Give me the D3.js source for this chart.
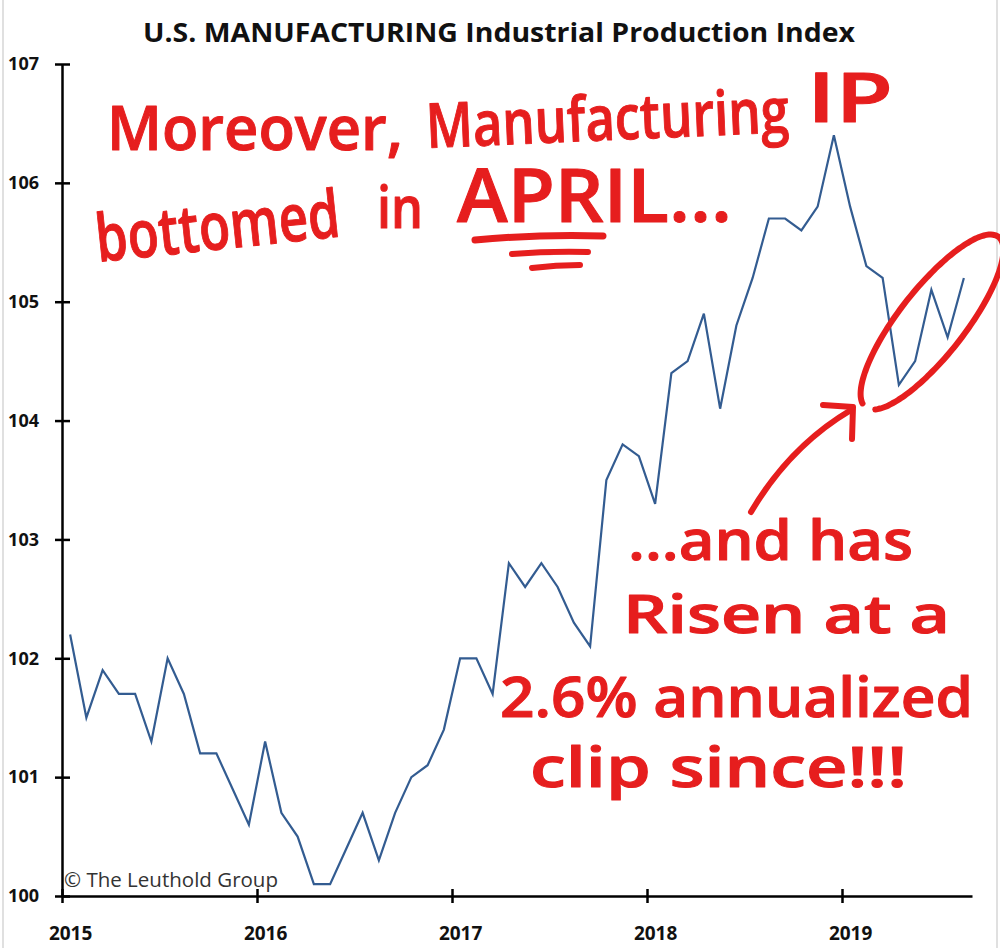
<!DOCTYPE html>
<html>
<head>
<meta charset="utf-8">
<script src="https://cdn.jsdelivr.net/npm/d3@7"></script>
<style>
  html, body { margin: 0; padding: 0; background: #fff; }
  svg { display: block; }
</style>
</head>
<body>
<svg id="chart" width="1000" height="948"></svg>
<script>
// ---- data ----
const titleText = "U.S. MANUFACTURING Industrial Production Index";
const yearLabels = ["2015", "2016", "2017", "2018", "2019"];
const yearTickMonths = [0, 12, 24, 36, 48];
const yTicks = [100, 101, 102, 103, 104, 105, 106, 107];
// Monthly index values, Jan 2015 .. Aug 2019
const values = [
  102.2, 101.5, 101.9, 101.7, 101.7, 101.3, 102.0, 101.7, 101.2, 101.2, 100.9, 100.6,
  101.3, 100.7, 100.5, 100.1, 100.1, 100.4, 100.7, 100.3, 100.7, 101.0, 101.1, 101.4,
  102.0, 102.0, 101.7, 102.8, 102.6, 102.8, 102.6, 102.3, 102.1, 103.5, 103.8, 103.7,
  103.3, 104.4, 104.5, 104.9, 104.1, 104.8, 105.2, 105.7, 105.7, 105.6, 105.8, 106.4,
  105.8, 105.3, 105.2, 104.3, 104.5, 105.1, 104.7, 105.2
];
const sourceText = "\u00A9 The Leuthold Group";
const noteWords1 = ["Moreover,", "Manufacturing", "IP", "bottomed", "in", "APRIL..."];
const noteLines2 = ["...and has", "Risen at a", "2.6% annualized", "clip since!!!"];

// ---- layout ----
const svg = d3.select("#chart");
const x = d3.scaleLinear().domain([0, 56]).range([62, 972]);
const y = d3.scaleLinear().domain([100, 107]).range([896, 64]);
const FONT = "'Open Sans', 'Liberation Sans', sans-serif";
const RED = "#e61e1e";

// frame edges
svg.append("line").attr("x1", 3).attr("x2", 3).attr("y1", 0).attr("y2", 948)
  .attr("stroke", "#d6d6d6").attr("stroke-width", 1.5);
svg.append("line").attr("x1", 997).attr("x2", 997).attr("y1", 0).attr("y2", 948)
  .attr("stroke", "#d6d6d6").attr("stroke-width", 1.5);

// title
svg.append("text")
  .attr("x", 143).attr("y", 42)
  .attr("textLength", 712).attr("lengthAdjust", "spacingAndGlyphs")
  .attr("font-family", FONT).attr("font-weight", 700).attr("font-size", 27)
  .attr("fill", "#111")
  .text(titleText);

// y axis
const yAxis = svg.append("g")
  .attr("transform", `translate(${x(0)},0)`)
  .call(d3.axisLeft(y).tickValues(yTicks).tickFormat(d3.format("d"))
    .tickSizeInner(7).tickSizeOuter(0).tickPadding(16));
yAxis.select(".domain").attr("stroke", "#000").attr("stroke-width", 2.5);
yAxis.selectAll(".tick line").attr("x1", 8).attr("stroke", "#000").attr("stroke-width", 2.5);
yAxis.selectAll(".tick text")
  .attr("font-family", FONT).attr("font-weight", 700).attr("font-size", 18)
  .attr("fill", "#111");

// x axis
const xAxis = svg.append("g")
  .attr("transform", `translate(0,${y(100)})`)
  .call(d3.axisBottom(x).tickValues(yearTickMonths)
    .tickFormat((d, i) => yearLabels[i])
    .tickSizeInner(7).tickSizeOuter(0).tickPadding(23));
xAxis.select(".domain").attr("stroke", "#000").attr("stroke-width", 2.5);
xAxis.selectAll(".tick line").attr("y1", -7).attr("stroke", "#000").attr("stroke-width", 2.5);
xAxis.selectAll(".tick text")
  .attr("x", x(0.5) - x(0))
  .attr("dy", "0.72em")
  .attr("font-family", FONT).attr("font-weight", 700).attr("font-size", 19)
  .attr("fill", "#111");

// source
svg.append("text")
  .attr("x", 64).attr("y", 887)
  .attr("textLength", 214).attr("lengthAdjust", "spacingAndGlyphs")
  .attr("font-family", FONT).attr("font-size", 20)
  .attr("fill", "#333")
  .text(sourceText);

// series line
const line = d3.line()
  .x((d, i) => x(i + 0.5))
  .y(d => y(d));
svg.append("path")
  .datum(values)
  .attr("d", line)
  .attr("fill", "none")
  .attr("stroke", "#335c91")
  .attr("stroke-width", 2.2)
  .attr("stroke-linejoin", "miter");

// ---- handwritten-style annotations ----
const ann = svg.append("g")
  .attr("fill", RED).attr("stroke", RED)
  .attr("stroke-width", 1).attr("stroke-linejoin", "round")
  .attr("font-family", FONT).attr("font-weight", 600);

const note1Pos = [
  { x: 107, y: 150, w: 296, fs: 62, r: 0 },
  { x: 427, y: 148, w: 363, fs: 62, r: -2.5 },
  { x: 807, y: 122, w: 86, fs: 68, r: 0 },
  { x: 98, y: 262, w: 245, fs: 66, r: -6 },
  { x: 377, y: 228, w: 46, fs: 58, r: 0 },
  { x: 457, y: 222, w: 275, fs: 74, r: 0 }
];
noteWords1.forEach((t, i) => {
  const p = note1Pos[i];
  ann.append("text").attr("x", p.x).attr("y", p.y)
    .attr("transform", `rotate(${p.r},${p.x},${p.y})`)
    .attr("font-size", p.fs).attr("textLength", p.w).attr("lengthAdjust", "spacingAndGlyphs")
    .text(t);
});

const note2Pos = [
  { x: 628, y: 560, w: 285, fs: 56 },
  { x: 623, y: 633, w: 327, fs: 52 },
  { x: 500, y: 717, w: 473, fs: 56 },
  { x: 530, y: 787, w: 377, fs: 56 }
];
noteLines2.forEach((t, i) => {
  const p = note2Pos[i];
  ann.append("text").attr("x", p.x).attr("y", p.y)
    .attr("font-size", p.fs).attr("textLength", p.w).attr("lengthAdjust", "spacingAndGlyphs")
    .text(t);
});

const strokes = svg.append("g")
  .attr("fill", "none").attr("stroke", RED)
  .attr("stroke-linecap", "round").attr("stroke-linejoin", "round");

// underline of APRIL
strokes.append("path").attr("d", "M475,240 Q540,234 603,236").attr("stroke-width", 7);
strokes.append("path").attr("d", "M512,254 Q550,251 588,252").attr("stroke-width", 6);
strokes.append("path").attr("d", "M532,268 Q556,265 580,265").attr("stroke-width", 6);

// arrow
strokes.append("path").attr("d", "M751,512 Q790,446 851,410").attr("stroke-width", 6);
strokes.append("path").attr("d", "M823,405 L853,407 L852,439").attr("stroke-width", 6);

// ellipse around the recent upturn
const cx = 932, cy = 322, rx = 108, ry = 33, ang = -52 * Math.PI / 180;
const u = [Math.cos(ang), Math.sin(ang)], v = [-Math.sin(ang), Math.cos(ang)];
const ts = d3.range(188, 525, 3).map(d => d * Math.PI / 180);
const ellPts = ts.map(t => [
  cx + rx * Math.cos(t) * u[0] + ry * Math.sin(t) * v[0],
  cy + rx * Math.cos(t) * u[1] + ry * Math.sin(t) * v[1]
]);
strokes.append("path")
  .attr("d", d3.line().curve(d3.curveCatmullRom)(ellPts))
  .attr("stroke-width", 6);
</script>
</body>
</html>
